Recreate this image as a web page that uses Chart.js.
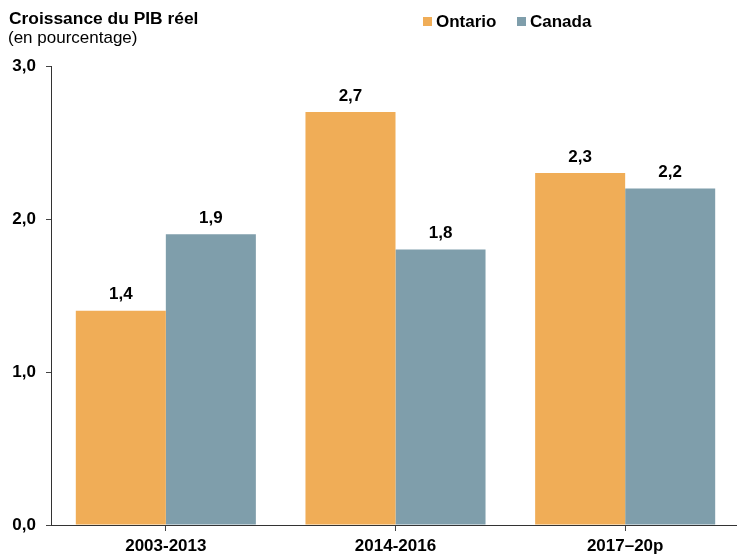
<!DOCTYPE html>
<html>
<head>
<meta charset="utf-8">
<script src="https://cdn.jsdelivr.net/npm/chart.js@4"></script>
<style>
  html, body { margin: 0; padding: 0; background: #fff; overflow: hidden; }
  #wrap { width: 740px; height: 554px; position: relative; }
</style>
</head>
<body>
<div id="wrap"><canvas id="myChart"></canvas></div>
<script>
const periods = ['2003-2013', '2014-2016', '2017\u201320p'];
const ontario = [1.4, 2.7, 2.3];
const canada = [1.9, 1.8, 2.2];
const seriesNames = ['Ontario', 'Canada'];
const seriesColors = ['#F0AD57', '#7F9EAB'];
const titleText = 'Croissance du PIB r\u00e9el';
const subtitleText = '(en pourcentage)';

const fontFamily = '"Liberation Sans", Arial, sans-serif';
const fmt = v => v.toFixed(1).replace('.', ',');

// title, legend and value labels
const extras = {
  id: 'extras',
  afterDatasetsDraw(chart) {
    const c = chart.ctx;
    c.save();
    c.fillStyle = '#000';
    c.textBaseline = 'middle';
    c.textAlign = 'left';
    c.font = 'bold 17.4px ' + fontFamily;
    c.fillText(titleText, 9, 19);
    c.font = '17px ' + fontFamily;
    c.fillText(subtitleText, 8, 38);

    // legend
    const legendX = [423, 517];
    chart.data.datasets.forEach((ds, i) => {
      c.fillStyle = ds.backgroundColor;
      c.fillRect(legendX[i], 17, 9, 9);
      c.fillStyle = '#000';
      c.font = 'bold 17px ' + fontFamily;
      c.fillText(ds.label, legendX[i] + 13, 22);
    });

    // value labels
    c.textAlign = 'center';
    c.font = 'bold 17px ' + fontFamily;
    chart.data.datasets.forEach((ds, i) => {
      const meta = chart.getDatasetMeta(i);
      meta.data.forEach((bar, j) => {
        c.fillText(fmt(ds.data[j]), bar.x, bar.y - 16);
      });
    });
    c.restore();
  }
};

let ctx = document.getElementById('myChart').getContext('2d');
let chart = new Chart(ctx, {
  type: 'bar',
  data: {
    labels: periods,
    datasets: [
      { label: seriesNames[0], data: ontario, backgroundColor: seriesColors[0], borderWidth: 0 },
      { label: seriesNames[1], data: canada, backgroundColor: seriesColors[1], borderWidth: 0 }
    ]
  },
  options: {
    responsive: true,
    maintainAspectRatio: false,
    animation: false,
    devicePixelRatio: 1,
    categoryPercentage: 0.784,
    barPercentage: 1,
    layout: { padding: { top: 66, left: 0, right: 0, bottom: 0 } },
    plugins: {
      legend: { display: false },
      tooltip: { enabled: false }
    },
    scales: {
      x: {
        grid: { display: true, drawOnChartArea: false, drawTicks: true, tickLength: 6, offset: false, color: '#444' },
        border: { display: true, color: '#333', width: 1 },
        ticks: { color: '#000', font: { family: fontFamily, size: 17, weight: 'bold' }, padding: 5, maxRotation: 0 },
        afterFit(scale) { scale.height = 29; }
      },
      y: {
        min: 0,
        max: 3,
        ticks: { stepSize: 1, color: '#000', font: { family: fontFamily, size: 17, weight: 'bold' }, padding: 10, callback: v => fmt(v) },
        grid: { display: true, drawOnChartArea: false, drawTicks: true, tickLength: 5, color: '#444' },
        border: { display: true, color: '#333', width: 1 },
        afterFit(scale) { scale.width = 51; }
      }
    }
  },
  plugins: [extras]
});
</script>
</body>
</html>
